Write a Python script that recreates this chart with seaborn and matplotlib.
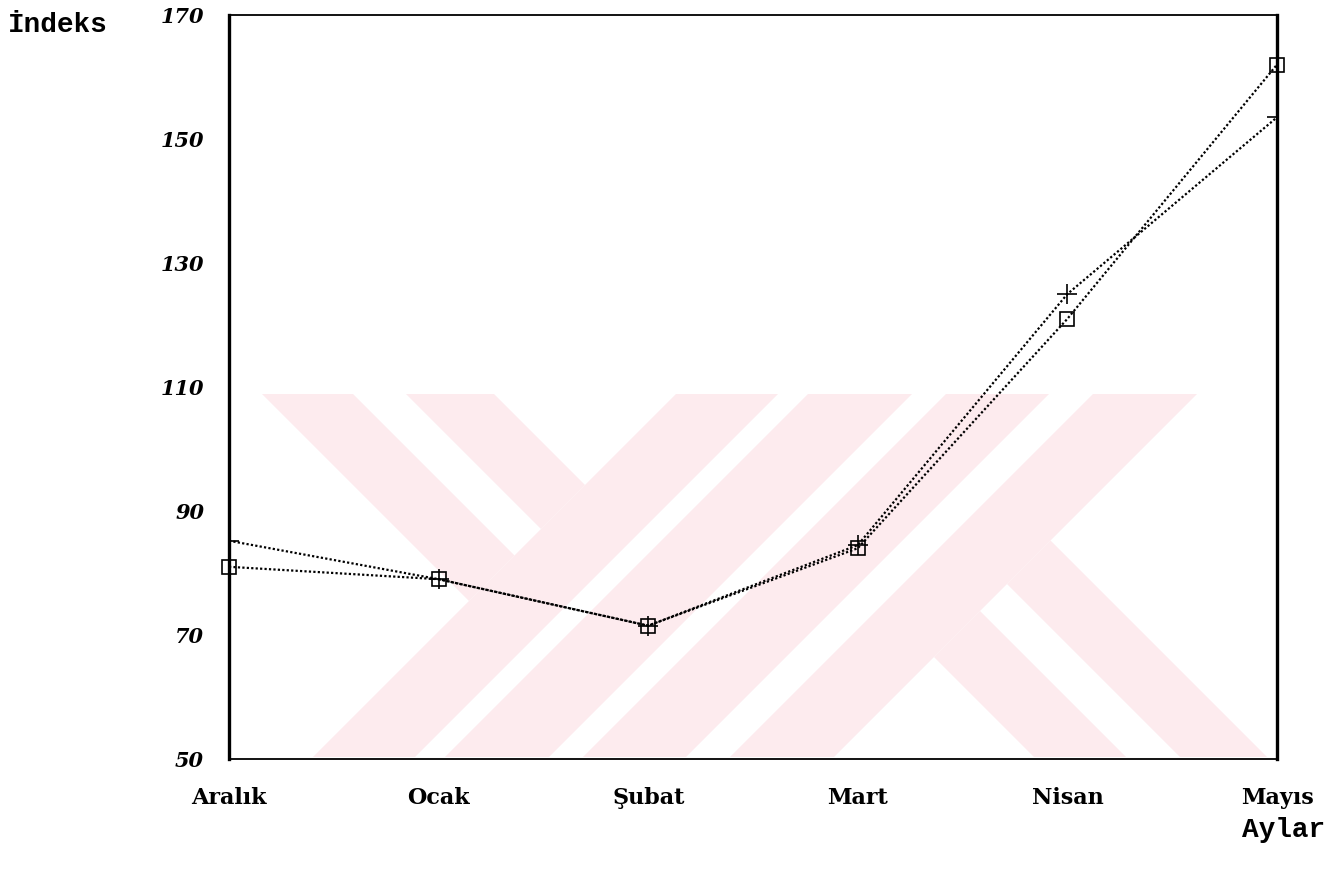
import matplotlib
matplotlib.use("Agg")
import matplotlib.pyplot as plt
from matplotlib.patches import Polygon
import seaborn as sns
import pandas as pd

# Veriler
aylar = ['Aralık', 'Ocak', 'Şubat', 'Mart', 'Nisan', 'Mayıs']
seri_kare = [81, 79, 71.5, 84, 121, 162]
seri_arti = [85.2, 79, 71.5, 84.5, 125, 153.5]
y_ticks = [50, 70, 90, 110, 130, 150, 170]

W, H = 1332, 877

sns.set_style("white")
plt.rcParams['text.color'] = 'black'
plt.rcParams['xtick.color'] = 'black'
plt.rcParams['ytick.color'] = 'black'

fig = plt.figure(figsize=(W / 100, H / 100), dpi=100)
ax = fig.add_axes([229 / W, 1 - 759 / H, (1277 - 229) / W, (759 - 15) / H])

# arka plandaki pembe filigran (piksel koordinatlarında)
filigran = [
    [(262, 394), (353, 394), (514.5, 555.5), (469, 601)],
    [(406, 394), (494, 394), (585, 485), (541, 529)],
    [(676, 394), (778, 394), (415, 757), (313, 757)],
    [(808, 394), (912, 394), (549, 757), (445, 757)],
    [(946, 394), (1049, 394), (686, 757), (583, 757)],
    [(1093, 394), (1197, 394), (834, 757), (730, 757)],
    [(934, 657), (980, 611), (1126, 757), (1034, 757)],
    [(1007, 584), (1050.5, 540.5), (1267, 757), (1180, 757)],
]
for poly in filigran:
    pts = [(x / W, 1 - y / H) for x, y in poly]
    ax.add_patch(Polygon(pts, closed=True, transform=fig.transFigure,
                         facecolor='#fdebee', edgecolor='none', zorder=0.5))

df = pd.DataFrame({'ay': aylar, 'kare': seri_kare, 'arti': seri_arti})

sns.lineplot(data=df, x='ay', y='kare', ax=ax, sort=False, color='black',
             linestyle=(0, (1, 1)), linewidth=1.6, marker='s', markersize=10,
             markerfacecolor='none', markeredgecolor='black', markeredgewidth=1.2,
             zorder=3, clip_on=False)
sns.lineplot(data=df, x='ay', y='arti', ax=ax, sort=False, color='black',
             linestyle=(0, (1, 1)), linewidth=1.6, marker='+', markersize=14,
             markeredgecolor='black', markeredgewidth=1.2, zorder=3)

ax.set_xlim(0, 5)
ax.set_ylim(50, 170)
ax.set_yticks(y_ticks)
ax.set_yticklabels([str(t) for t in y_ticks], fontfamily='DejaVu Serif',
                   fontweight='bold', fontstyle='italic', fontsize=15, color='black')
ax.set_xticks(range(len(aylar)))
ax.set_xticklabels(aylar, fontfamily='DejaVu Serif', fontweight='bold',
                   fontsize=16, color='black')
ax.tick_params(axis='x', length=0, pad=20)
ax.tick_params(axis='y', length=0, pad=18)
ax.set_xlabel('')
ax.set_ylabel('')
ax.grid(False)

for side in ['left', 'right']:
    ax.spines[side].set_linewidth(2.4)
    ax.spines[side].set_color('black')
for side in ['top', 'bottom']:
    ax.spines[side].set_linewidth(1.3)
    ax.spines[side].set_linestyle((0, (2, 1)))
    ax.spines[side].set_color('black')

fig.text(8 / W, 1 - 25 / H, 'İndeks', fontfamily='Liberation Mono',
         fontweight='bold', fontsize=20, ha='left', va='center', color='black')
fig.text(1325 / W, 1 - 830 / H, 'Aylar', fontfamily='Liberation Mono',
         fontweight='bold', fontsize=20, ha='right', va='center', color='black')

fig.savefig('out.png', dpi=100, facecolor='white')
